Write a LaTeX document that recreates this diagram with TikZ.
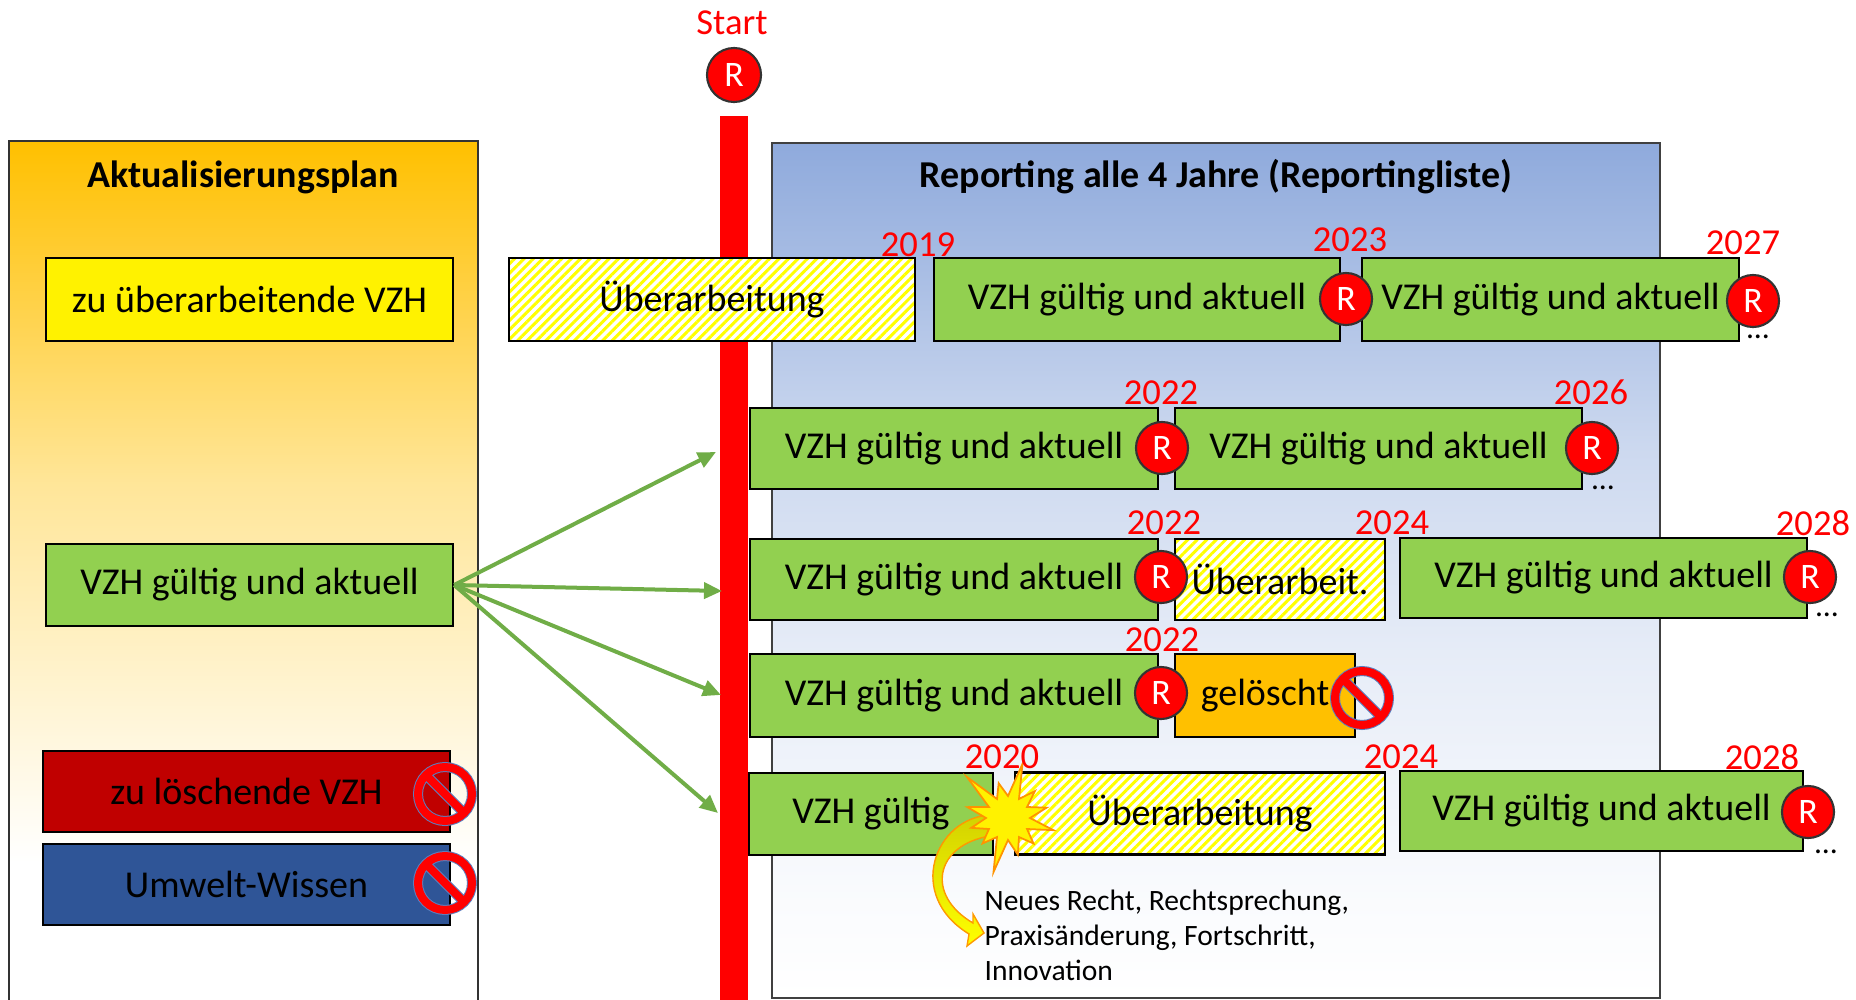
\documentclass[tikz,border=0pt]{standalone}
\usepackage{fontspec}
\setmainfont{Carlito}
\usetikzlibrary{arrows.meta, patterns.meta, calc}

\definecolor{vzhgruen}{HTML}{92D050}
\definecolor{pfeilgruen}{HTML}{70AD47}
\definecolor{akt}{HTML}{FFC000}
\definecolor{loeschrot}{HTML}{C00000}
\definecolor{wissenblau}{HTML}{2F5597}
\definecolor{repblau}{HTML}{8FAADC}
\definecolor{verbotrand}{HTML}{5B7FBF}

\pgfdeclareverticalshading{aktschatten}{100bp}{color(0bp)=(white); color(33bp)=(white); color(55bp)=(akt!40!white); color(75bp)=(akt); color(100bp)=(akt)}
\pgfdeclareverticalshading{repschatten}{100bp}{color(0bp)=(white); color(25bp)=(white); color(31bp)=(repblau!5!white); color(45bp)=(repblau!22!white); color(57bp)=(repblau!45!white); color(75bp)=(repblau); color(100bp)=(repblau)}

\begin{document}
\begin{tikzpicture}[x=0.01cm, y=-0.01cm,
  kasten/.style={draw=black, line width=0.6pt, minimum height=0.82cm, inner sep=0pt, font=\fontsize{10.8}{13}\selectfont},
  gruen/.style={kasten, fill=vzhgruen},
  schraffur/.style={kasten, fill=white, postaction={pattern={Lines[angle=45,distance=1.9pt,line width=0.85pt]}, pattern color=yellow, draw=black}},
  rkreis/.style={circle, fill=red, draw=black!80, line width=0.6pt, text=white, minimum size=0.52cm, inner sep=0pt, font=\fontsize{10.2}{12}\selectfont},
  jahr/.style={text=red, inner sep=0pt, font=\fontsize{10.4}{12}\selectfont},
  titel/.style={inner sep=0pt, font=\fontsize{10.8}{13}\selectfont\bfseries},
  punkte/.style={inner sep=0pt, font=\fontsize{9}{10}\selectfont},
  zuweisung/.style={pfeilgruen, line width=0.04cm, -{Triangle[length=1.8mm,width=1.6mm]}}]
  \useasboundingbox (0,0) rectangle (1856,1000);

  % Hintergrundflaechen
  \shade[shading=aktschatten] (9,141) rectangle (478,1000);
  \draw[black!80, line width=0.5pt] (9,1000) |- (478,141) -- (478,1000);
  \shade[shading=repschatten] (772,143) rectangle (1660,998);
  \draw[black!75, line width=0.6pt] (772,143) rectangle (1660,998);

  \node[titel] (akttitel) at (243,177) {Aktualisierungsplan};
  \node[titel] (reptitel) at (1216,177) {Reporting alle 4 Jahre (Reportingliste)};

  % Startlinie
  \fill[red] (720,116) rectangle (748,1000);
  \node[jahr] (start) at (732,23) {Start};
  \node[rkreis, minimum size=0.54cm] (rstart) at (734,75) {R};

  % linke Spalte
  \node[kasten, fill=yellow, minimum width=4.07cm, minimum height=0.83cm] (gelb) at (249.5,299.5) {zu überarbeitende VZH};
  \node[gruen, minimum width=4.07cm] (vzhlinks) at (249.5,585) {VZH gültig und aktuell};
  \node[kasten, fill=loeschrot, minimum width=4.07cm, minimum height=0.81cm] (loeschen) at (246.5,791.5) {zu löschende VZH};
  \node[kasten, fill=wissenblau, minimum width=4.07cm, minimum height=0.81cm] (wissen) at (246.5,884.5) {Umwelt-Wissen};

  % Zeile 1
  \node[schraffur, minimum width=4.06cm, minimum height=0.83cm] (ueber1) at (712,299.5) {Überarbeitung};
  \node[gruen, minimum width=4.06cm, minimum height=0.83cm] (z1a) at (1137,299.5) {VZH gültig und aktuell};
  \node[gruen, minimum width=3.77cm, minimum height=0.83cm] (z1b) at (1550.5,299.5) {VZH gültig und aktuell};
  \node[rkreis] (k1a) at (1346,299) {R};
  \node[rkreis] (k1b) at (1753,301) {R};

  % Zeile 2
  \node[gruen, minimum width=4.08cm, minimum height=0.81cm] (z2a) at (954,448.5) {VZH gültig und aktuell};
  \node[gruen, minimum width=4.07cm, minimum height=0.81cm] (z2b) at (1378.5,448.5) {VZH gültig und aktuell};
  \node[rkreis] (k2a) at (1162,448) {R};
  \node[rkreis] (k2b) at (1592,448) {R};

  % Zeile 3
  \node[gruen, minimum width=4.08cm, minimum height=0.81cm] (z3a) at (954,579.5) {VZH gültig und aktuell};
  \node[schraffur, minimum width=2.10cm, minimum height=0.81cm] (ueber3) at (1280,579.5) {Überarbeit.};
  \node[gruen, minimum width=4.07cm, minimum height=0.80cm] (z3b) at (1603.5,578) {VZH gültig und aktuell};
  \node[rkreis] (k3a) at (1161,577) {R};
  \node[rkreis] (k3b) at (1810,577) {R};

  % Zeile 4
  \node[gruen, minimum width=4.08cm, minimum height=0.83cm] (z4a) at (954,695.5) {VZH gültig und aktuell};
  \node[kasten, fill=akt, minimum width=1.80cm, minimum height=0.83cm] (geloescht) at (1265,695.5) {gelöscht};
  \node[rkreis] (k4a) at (1161,693) {R};

  % Zeile 5
  \node[gruen, minimum width=2.44cm] (z5a) at (871,814) {VZH gültig};
  \node[schraffur, minimum width=3.70cm] (ueber5) at (1200,813.5) {Überarbeitung};
  \node[gruen, minimum width=4.03cm, minimum height=0.80cm] (z5b) at (1601.5,811) {VZH gültig und aktuell};
  \node[rkreis] (k5b) at (1808,812) {R};

  % Verbotszeichen
  \foreach \vx/\vy in {445/794, 445/883, 1362/698} {
    \draw[verbotrand, line width=0.1cm] (\vx,\vy) circle[radius=27]
      ($(\vx,\vy)+(225:24)$) -- ($(\vx,\vy)+(45:24)$);
    \draw[red, line width=0.08cm] ($(\vx,\vy)+(225:24)$) -- ($(\vx,\vy)+(45:24)$)
      (\vx,\vy) circle[radius=27];
  }

  % Zuweisungspfeile
  \coordinate (ziel1) at (716,452);
  \coordinate (ziel2) at (722,591);
  \coordinate (ziel3) at (721,695);
  \coordinate (ziel4) at (718,813);
  \foreach \z in {ziel1,ziel2,ziel3,ziel4}
    \draw[zuweisung] (vzhlinks.east) -- (\z);

  % Ausloeser: Pfeil und Stern
  \filldraw[top color=yellow!65!olive, bottom color=yellow, draw=orange!80!yellow, line width=0.4pt]
    (990,815) .. controls (935,818) and (905,895) .. (969,934)
    -- (967,946) -- (984,933) -- (973,914) -- (973,923)
    .. controls (925,895) and (935,845) .. (990,836) -- cycle;
  \coordinate (stern) at (1008,818);
  \filldraw[fill=yellow, draw=orange!85!yellow, line width=0.5pt]
    (stern) ++(0:22)
    \foreach \w/\r in {15/47,30/22,45/36,60/22,75/38,90/22,105/56,120/22,135/36,150/22,165/38,180/22,
                       195/42,210/22,225/58,240/22,255/36,270/22,285/56,300/22,315/38,330/22,345/40}
      { -- ($(stern)+(\w:\r)$) } -- cycle;
  \node[anchor=north west, align=left, inner sep=0pt, font=\fontsize{8.4}{10}\selectfont] (anlass) at (984,889)
    {Neues Recht, Rechtsprechung,\\Praxisänderung, Fortschritt,\\Innovation};

  % Jahreszahlen
  \node[jahr] (j2019) at (918,245) {2019};
  \node[jahr] (j2023) at (1350,240) {2023};
  \node[jahr] (j2027) at (1743,243) {2027};
  \node[jahr] (j2022a) at (1161,393) {2022};
  \node[jahr] (j2026) at (1591,392) {2026};
  \node[jahr] (j2022b) at (1164,523) {2022};
  \node[jahr] (j2024a) at (1392,523) {2024};
  \node[jahr] (j2028a) at (1813,523) {2028};
  \node[jahr] (j2022c) at (1162,640) {2022};
  \node[jahr] (j2020) at (1002,757) {2020};
  \node[jahr] (j2024b) at (1401,757) {2024};
  \node[jahr] (j2028b) at (1762,757) {2028};

  % Fortsetzung
  \node[punkte] (p1) at (1758,337) {...};
  \node[punkte] (p2) at (1603,488) {...};
  \node[punkte] (p3) at (1827,615) {...};
  \node[punkte] (p4) at (1826,852) {...};
\end{tikzpicture}
\end{document}
